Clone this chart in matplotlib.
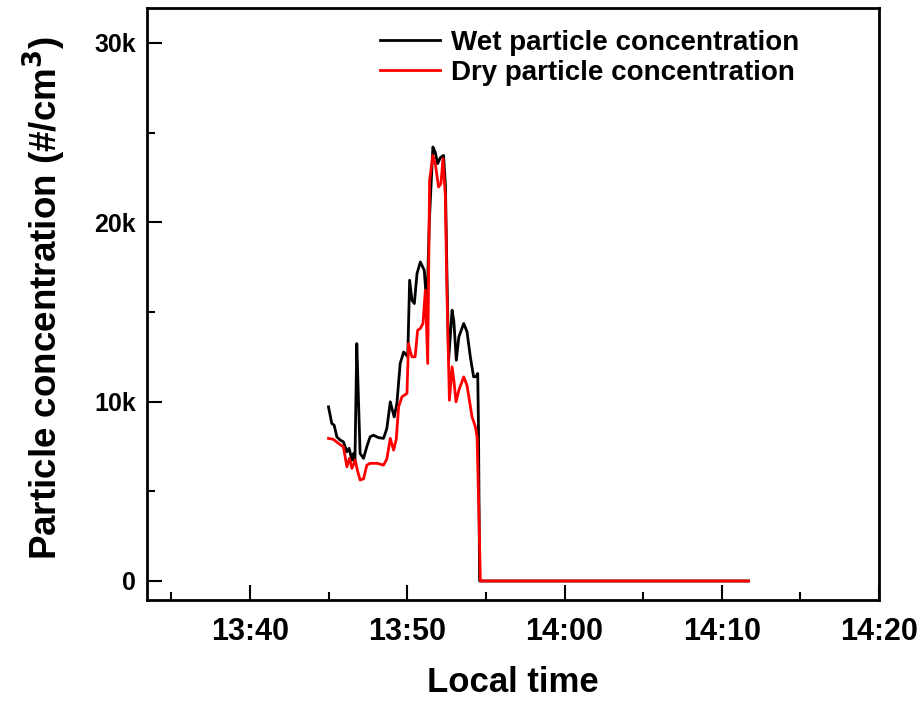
import matplotlib
matplotlib.use('Agg')
import matplotlib.pyplot as plt
from matplotlib.ticker import MultipleLocator

# minutes after 13:40 and concentrations in k (#/cm3)
wet_t = [4.99, 5.2, 5.35, 5.52, 5.73, 5.94, 6.16, 6.3, 6.48, 6.57, 6.67, 6.79, 6.9, 7.0, 7.22,
         7.43, 7.64, 7.85, 8.15, 8.49, 8.7, 8.92, 9.03, 9.17, 9.34, 9.55, 9.77, 9.94, 10.03,
         10.15, 10.3, 10.45, 10.62, 10.83, 11.08, 11.25, 11.4, 11.63, 11.78, 11.93, 12.1,
         12.31, 12.43, 12.53, 12.63, 12.85, 12.96, 13.12, 13.28, 13.59, 13.8, 14.01, 14.22,
         14.38, 14.48, 14.53, 14.6, 31.7]
wet_v = [9.71, 8.78, 8.69, 8.04, 7.86, 7.76, 7.2, 7.4, 6.74, 7.1, 6.56, 13.24, 10.0, 7.11, 6.84,
         7.5, 8.04, 8.13, 8.0, 7.95, 8.5, 9.99, 9.6, 9.15, 9.9, 12.13, 12.77, 12.6, 12.5,
         16.77, 15.65, 15.47, 17.14, 17.79, 17.33, 15.28, 20.0, 24.2, 23.9, 23.27, 23.6,
         23.73, 22.0, 16.77, 12.31, 15.1, 14.5, 12.31, 13.61, 14.36, 13.9, 12.5, 11.38,
         11.4, 11.57, 8.5, 0.0, 0.0]

dry_t = [4.99, 5.3, 5.63, 5.94, 6.16, 6.33, 6.48, 6.69, 6.82, 7.0, 7.22, 7.43, 7.64, 8.1,
         8.49, 8.7, 8.92, 9.13, 9.3, 9.45, 9.66, 9.98, 10.08, 10.19, 10.3, 10.5, 10.66, 10.83,
         11.0, 11.15, 11.3, 11.42, 11.63, 11.78, 11.99, 12.14, 12.27, 12.42, 12.53, 12.68,
         12.85, 12.96, 13.1, 13.28, 13.59, 13.8, 14.12, 14.33, 14.44, 14.55, 14.65, 31.7]
dry_v = [7.95, 7.9, 7.67, 7.48, 6.37, 6.84, 6.28, 6.74, 6.2, 5.63, 5.7, 6.46, 6.56, 6.56,
         6.46, 6.8, 7.95, 7.3, 7.9, 9.71, 10.27, 10.46, 13.24, 12.8, 12.5, 12.5, 13.98, 14.08,
         14.36, 16.21, 12.13, 22.34, 23.73, 23.27, 21.97, 22.15, 23.55, 21.5, 15.84, 10.08,
         11.94, 11.2, 9.99, 10.64, 11.38, 10.9, 9.15, 8.6, 8.04, 4.0, 0.0, 0.0]

x_ticks = [0, 10, 20, 30, 40]
x_ticklabels = ['13:40', '13:50', '14:00', '14:10', '14:20']
y_ticks = [0, 10, 20, 30]
y_ticklabels = ['0', '10k', '20k', '30k']

plt.rcParams['font.family'] = ['Liberation Sans', 'DejaVu Sans']
plt.rcParams['font.weight'] = 'bold'
plt.rcParams['mathtext.default'] = 'bf'

fig = plt.figure(figsize=(9.18, 7.02), dpi=100)
ax = fig.add_axes([0.160, 0.1453, 0.7975, 0.8433])

ax.plot(wet_t, wet_v, color='black', linewidth=2, label='Wet particle concentration')
ax.plot(dry_t, dry_v, color='red', linewidth=2, label='Dry particle concentration')

ax.set_xlim(-6.56, 40)
ax.set_ylim(-1.06, 31.95)

ax.set_xticks(x_ticks)
ax.set_xticklabels(x_ticklabels, fontsize=22, fontweight='bold')
ax.xaxis.set_minor_locator(MultipleLocator(5))
ax.set_yticks(y_ticks)
ax.set_yticklabels(y_ticklabels, fontsize=18, fontweight='bold')
ax.yaxis.set_minor_locator(MultipleLocator(5))

ax.tick_params(which='major', direction='in', length=11, width=1.5, top=False, right=False)
ax.tick_params(which='minor', direction='in', length=6, width=1.5, top=False, right=False)
ax.tick_params(axis='x', pad=12)
ax.tick_params(axis='y', pad=8)

for sp in ax.spines.values():
    sp.set_linewidth(2)

ax.set_xlabel('Local time', fontsize=25, fontweight='bold', labelpad=14)
ax.set_ylabel('Particle concentration (#/cm$^3$)', fontsize=26.5, fontweight='bold')
ax.yaxis.set_label_coords(-0.108, 0.51)

ax.legend(loc='upper left', bbox_to_anchor=(0.284, 1.005), frameon=False, fontsize=20,
          handlelength=2.15, handletextpad=0.4, labelspacing=0.15)

fig.savefig('out.png', dpi=100)
